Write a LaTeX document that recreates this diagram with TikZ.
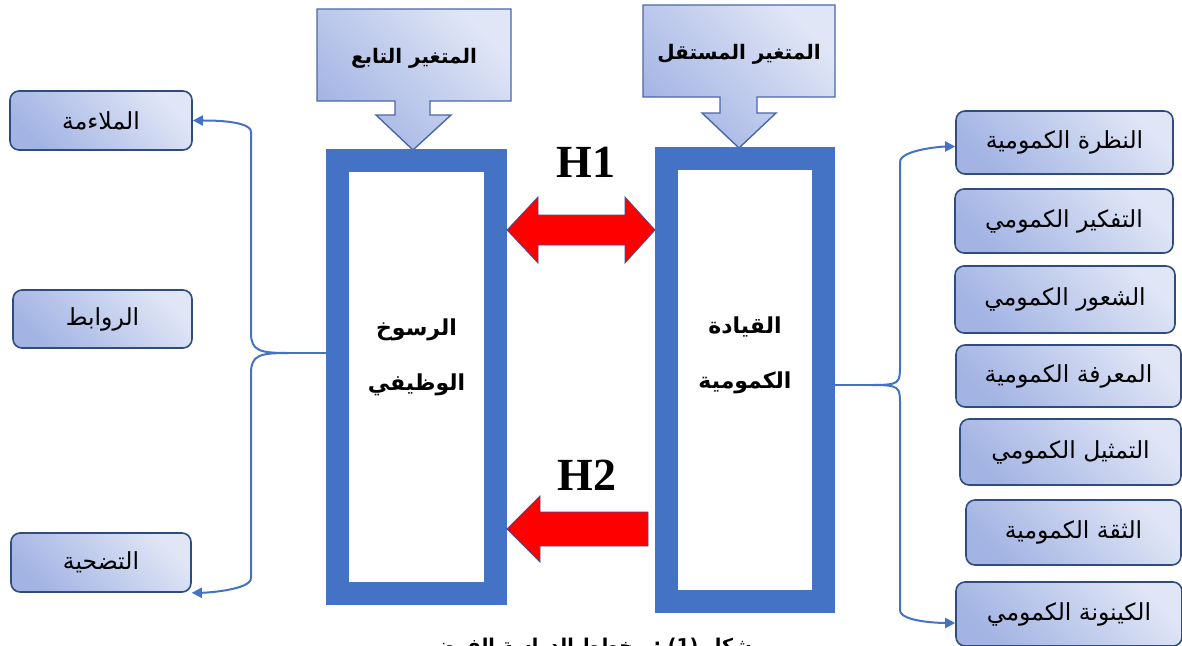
\documentclass[tikz,border=0pt]{standalone}
\usepackage{fontspec}
\usetikzlibrary{arrows.meta,calc}
\TeXXeTstate=1
\newfontfamily\arabicfont[Script=Arabic]{DejaVu Sans}
\newfontfamily\hfont{Liberation Serif}
\newcommand\artext[1]{\beginR#1\endR}
\definecolor{frameblue}{HTML}{4472C4}
\definecolor{boxdark}{HTML}{A3B4E4}
\definecolor{boxlight}{HTML}{E0E6F6}
\definecolor{boxborder}{HTML}{2E4C7E}
\definecolor{calloutborder}{HTML}{4A68A8}
\definecolor{arrowred}{HTML}{FF0000}
\definecolor{arrowedge}{HTML}{4B4B8C}
\tikzset{
  lbox/.style={draw=boxborder, line width=1.6pt, rounded corners=9pt,
    top color=boxlight, bottom color=boxdark, shading angle=-45, inner sep=0pt,
    font=\arabicfont\fontsize{23.5}{26}\selectfont},
  calloutshape/.style={draw=calloutborder, line width=1.4pt,
    top color=boxlight, bottom color=boxdark, shading angle=-45},
  callouttext/.style={font=\arabicfont\bfseries\fontsize{20}{23}\selectfont, inner sep=0pt},
  framebox/.style={draw=frameblue, line width=23pt, fill=white, inner sep=0pt, outer sep=11.5pt},
  ctext/.style={font=\arabicfont\bfseries\fontsize{22}{55}\selectfont, align=center, inner sep=0pt},
  conn/.style={draw=frameblue, line width=2pt},
  tipped/.style={-{Triangle[length=10pt,width=10pt]}},
  harrow/.style={fill=arrowred, draw=arrowedge, line width=0.8pt, line join=miter},
  hlabel/.style={font=\hfont\bfseries\fontsize{46}{50}\selectfont, inner sep=0pt},
  captext/.style={font=\arabicfont\bfseries\fontsize{19}{22}\selectfont, inner sep=0pt},
}
\begin{document}
\begin{tikzpicture}[x=1pt,y=-1pt]
\useasboundingbox (0,0) rectangle (1182,645);
\fill[white] (0,0) rectangle (1182,645);

% callouts
\path[calloutshape] (317,9) -- (511,9) -- (511,101) -- (430,101) -- (430,115) -- (451,115)
  -- (413,150) -- (376,115) -- (395,115) -- (395,101) -- (317,101) -- cycle;
\node[callouttext] (dep) at (414,58) {\artext{المتغير التابع}};
\path[calloutshape] (643,5) -- (835,5) -- (835,97) -- (757,97) -- (757,113) -- (776,113)
  -- (739,148) -- (702,113) -- (720,113) -- (720,97) -- (643,97) -- cycle;
\node[callouttext] (indep) at (739,54) {\artext{المتغير المستقل}};

% frames
\node[framebox, minimum width=158pt, minimum height=433pt] (Lf) at (416.5,377) {};
\node[framebox, minimum width=157pt, minimum height=443pt] (Rf) at (745,380) {};
\node[ctext] (Lt) at (416.5,357) {\artext{الرسوخ}\\\artext{الوظيفي}};
\node[ctext] (Rt) at (745,355) {\artext{القيادة}\\\artext{الكمومية}};

% hypotheses
\node[hlabel] (H1) at (586,162) {H1};
\node[hlabel] (H2) at (587,475) {H2};
\coordinate (h1a) at (Lf.east |- 0,230);
\coordinate (h1b) at (Rf.west |- 0,230);
\draw[harrow] (h1a) -- ++(31,-33) -- ++(0,18) -- ($(h1b)+(-30,-15)$) -- ++(0,-18) -- (h1b)
  -- ++(-30,33) -- ++(0,-18) -- ($(h1a)+(31,15)$) -- ++(0,18) -- cycle;
\coordinate (h2a) at (Lf.east |- 0,529);
\coordinate (h2b) at (Rf.west |- 0,529);
\draw[harrow] (h2a) -- ++(33,-33) -- ++(0,16) -- ($(h2b)+(-7,-17)$) -- ++(0,34)
  -- ($(h2a)+(33,17)$) -- ++(0,16) -- cycle;

% left boxes
\node[lbox, minimum width=182pt, minimum height=59pt] (l1) at (101,120.5) {\artext{الملاءمة}};
\node[lbox, minimum width=179pt, minimum height=58pt] (l2) at (102.5,319) {\artext{الروابط}};
\node[lbox, minimum width=180pt, minimum height=59pt] (l3) at (101,562.5) {\artext{التضحية}};

% right boxes
\node[lbox, minimum width=217pt, minimum height=63pt] (r1) at (1064.5,142.5) {\artext{النظرة الكمومية}};
\node[lbox, minimum width=218pt, minimum height=64pt] (r2) at (1064,221) {\artext{التفكير الكمومي}};
\node[lbox, minimum width=220pt, minimum height=67pt] (r3) at (1065,299.5) {\artext{الشعور الكمومي}};
\node[lbox, minimum width=225pt, minimum height=62pt] (r4) at (1068.5,376) {\artext{المعرفة الكمومية}};
\node[lbox, minimum width=221pt, minimum height=66pt] (r5) at (1070.5,452) {\artext{التمثيل الكمومي}};
\node[lbox, minimum width=215pt, minimum height=65pt] (r6) at (1073.5,532.5) {\artext{الثقة الكمومية}};
\node[lbox, minimum width=226pt, minimum height=64pt] (r7) at (1069,614) {\artext{الكينونة الكمومي}};

% left brace connectors
\coordinate (cL) at (288,353);
\draw[conn] (cL -| Lf.west) -- (cL);
\draw[conn,tipped] (cL) .. controls +(-28,0) and +(0,18) .. (251,333) -- (251,132)
  .. controls +(0,-12) and +(14,0) .. (l1.east);
\draw[conn,tipped] (cL) .. controls +(-28,0) and +(0,-18) .. (251,373) -- (251,578)
  .. controls +(0,12) and +(14,0) .. (l3.south east);

% right brace connectors
\coordinate (cR) at (872,385);
\draw[conn] (cR -| Rf.east) -- (cR);
\draw[conn,tipped] (cR) .. controls +(28,0) and +(0,18) .. (900,365) -- (900,162)
  .. controls +(0,-12) and +(-14,0) .. ($(r1.west)+(0,4)$);
\draw[conn,tipped] (cR) .. controls +(28,0) and +(0,-18) .. (900,405) -- (900,610)
  .. controls +(0,12) and +(-14,0) .. ($(r7.west)+(0,9)$);

% caption (cut off at the bottom edge, as in the source)
\node[captext, anchor=base] (cap) at (585,652) {\beginR شكل \beginL(1)\endL{} : مخطط الدراسة الفرضي\endR};
\end{tikzpicture}
\end{document}
